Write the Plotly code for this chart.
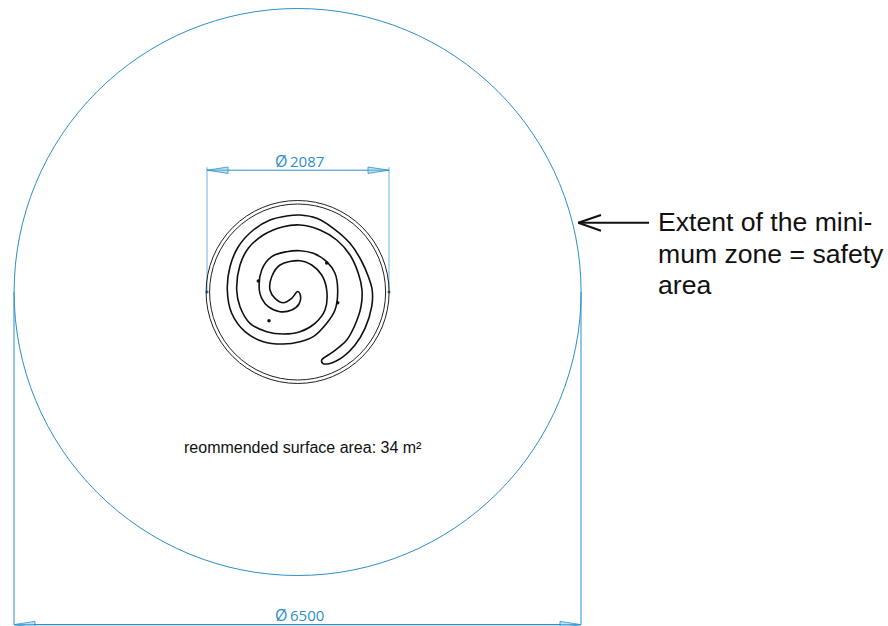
import plotly.graph_objects as go

BLUE = "#2b8fc9"
LIGHT = "#7fc1e6"
BLACK = "#111111"

# Drawing geometry, read in reference picture units
centre_x, centre_y = 297.6, 292.0
zone_radius = 283.5
ring_radii = [91.5, 88.0]

dim_small_left, dim_small_right, dim_small_y = 207.0, 389.0, 170.2
dim_big_left, dim_big_right, dim_big_y = 14.0, 581.0, 624.6

spiral_x = [322.7, 330, 343.3, 355, 365, 371.7, 372.2, 368.5, 361.5, 350, 333.3, 316.7, 300, 286.7, 270, 253.3,
            238.3, 230, 227.3, 231.7, 245, 263.3, 283.3, 300, 313.3, 326.7, 335, 337.7, 335, 326.7, 313.3,
            300, 286.7, 271.7, 261.7, 259.3, 261.7, 268.3, 280, 291.7, 299, 300.5, 297.7, 291.7, 283.3, 275,
            270, 271.7, 280, 300, 311.7, 321.7, 326.7, 325, 315, 300, 283.3, 266.7, 250, 240, 236.7, 240,
            248.3, 263.3, 283.3, 300, 320, 336.7, 350, 358.3, 362, 361, 355, 346.7, 333.3, 321.7, 322.7]
spiral_y = [363.3, 363.5, 356.7, 345, 328.3, 306.7, 290, 277, 261, 243.3, 228.3, 218.3, 215, 216, 220, 230,
            246.7, 266.7, 290, 313.3, 331.7, 341.7, 344, 341.7, 336.7, 323.3, 310, 290, 273.3, 261.7, 253.3,
            250.7, 251.7, 256.7, 270, 290, 298.3, 306.7, 311.7, 310, 304, 296, 291.5, 298.3, 302.7, 298.3,
            290, 276.7, 265, 260.7, 265, 275, 290, 310, 323.3, 331.7, 334, 331.7, 323.3, 306.7, 290, 265,
            248.3, 235, 226.7, 225, 230, 240, 255, 273.3, 290, 306.7, 325, 340, 351.7, 360, 363.3]

marker_x = [258.3, 326.7, 337.7, 269.0]
marker_y = [281.0, 263.0, 302.7, 320.7]
dim_dot_x = [207.0, 389.0]
dim_dot_y = [292.0, 292.0]

arrow_shaft_x = [578.3, 649.0]
arrow_shaft_y = [222.7, 222.7]
arrow_head_x = [601.0, 578.3, 601.0]
arrow_head_y = [215.0, 222.7, 230.7]

phi_mark = "\u00d8"
label_small = "2087"
label_big = "6500"
label_area = "reommended surface area: 34 m\u00b2"
label_zone = ["Extent of the mini-", "mum zone = safety", "area"]

fig = go.Figure()

def line(x, y, color=BLUE, width=1.0, fill=None, smooth=False):
    fig.add_trace(go.Scatter(
        x=x, y=y, mode="lines", hoverinfo="skip", showlegend=False,
        line=dict(color=color, width=width, shape="spline" if smooth else "linear",
                  **({"smoothing": 1.0} if smooth else {})),
        fill="toself" if fill else None, fillcolor=fill))

# extension and dimension lines
line([dim_small_left, dim_small_left], [dim_small_y - 3, centre_y], LIGHT, 1.2)
line([dim_small_right, dim_small_right], [dim_small_y - 3, centre_y], LIGHT, 1.2)
line([dim_small_left, dim_small_right], [dim_small_y, dim_small_y], BLUE, 1.0)
line([dim_big_left, dim_big_left], [centre_y, dim_big_y], BLUE, 1.0)
line([dim_big_right, dim_big_right], [centre_y, dim_big_y], BLUE, 1.0)
line([dim_big_left, dim_big_right], [dim_big_y, dim_big_y], BLUE, 1.2)

# open arrow heads of the dimensions
for tip, d, y in [(dim_small_left, 21, dim_small_y), (dim_small_right, -21, dim_small_y),
                  (dim_big_left, 21, dim_big_y), (dim_big_right, -21, dim_big_y)]:
    line([tip, tip + d, tip + d, tip], [y, y - 3.2, y + 3.2, y], BLUE, 0.8, fill="rgba(127,193,230,0.45)")

# spiral
line(spiral_x, spiral_y, BLACK, 1.6, smooth=True)

# dots
fig.add_trace(go.Scatter(x=marker_x, y=marker_y, mode="markers", hoverinfo="skip", showlegend=False,
                         marker=dict(color=BLACK, size=3.5)))
fig.add_trace(go.Scatter(x=dim_dot_x, y=dim_dot_y, mode="markers", hoverinfo="skip", showlegend=False,
                         marker=dict(color="#1f6fa5", size=3)))

# black arrow
line(arrow_shaft_x, arrow_shaft_y, BLACK, 2.0)
line(arrow_head_x, arrow_head_y, BLACK, 2.0)

shapes = [dict(type="circle", xref="x", yref="y", x0=centre_x - zone_radius, x1=centre_x + zone_radius,
               y0=centre_y - zone_radius, y1=centre_y + zone_radius, line=dict(color=BLUE, width=1.0))]
for r in ring_radii:
    shapes.append(dict(type="circle", xref="x", yref="y", x0=centre_x - r, x1=centre_x + r,
                       y0=centre_y - r, y1=centre_y + r, line=dict(color="#222222", width=1.0)))

annotations = [
    dict(x=280.5, y=160.5, text=phi_mark, font=dict(family="Open Sans", size=16, color=BLUE)),
    dict(x=306.5, y=160.5, text=label_small, font=dict(family="Open Sans", size=15, color=BLUE)),
    dict(x=280.5, y=614.5, text=phi_mark, font=dict(family="Open Sans", size=16, color=BLUE)),
    dict(x=306.5, y=614.5, text=label_big, font=dict(family="Open Sans", size=15, color=BLUE)),
    dict(x=302.5, y=447, text=label_area, font=dict(family="Liberation Sans", size=16, color=BLACK)),
]
for i, t in enumerate(label_zone):
    annotations.append(dict(x=656, y=222 + i * 31.5, text=t, xanchor="left",
                            font=dict(family="Liberation Sans", size=26.6, color=BLACK)))
for a in annotations:
    a.update(xref="x", yref="y", showarrow=False, yanchor="middle")
    a.setdefault("xanchor", "center")

fig.update_layout(
    width=888, height=626, margin=dict(l=0, r=0, t=0, b=0),
    paper_bgcolor="white", plot_bgcolor="white", showlegend=False,
    xaxis=dict(range=[0, 888], visible=False, fixedrange=True),
    yaxis=dict(range=[626, 0], visible=False, fixedrange=True),
    shapes=shapes, annotations=annotations,
)
fig.write_html("out.html", config={"displayModeBar": False},
               post_script="document.body.style.margin='0';")
